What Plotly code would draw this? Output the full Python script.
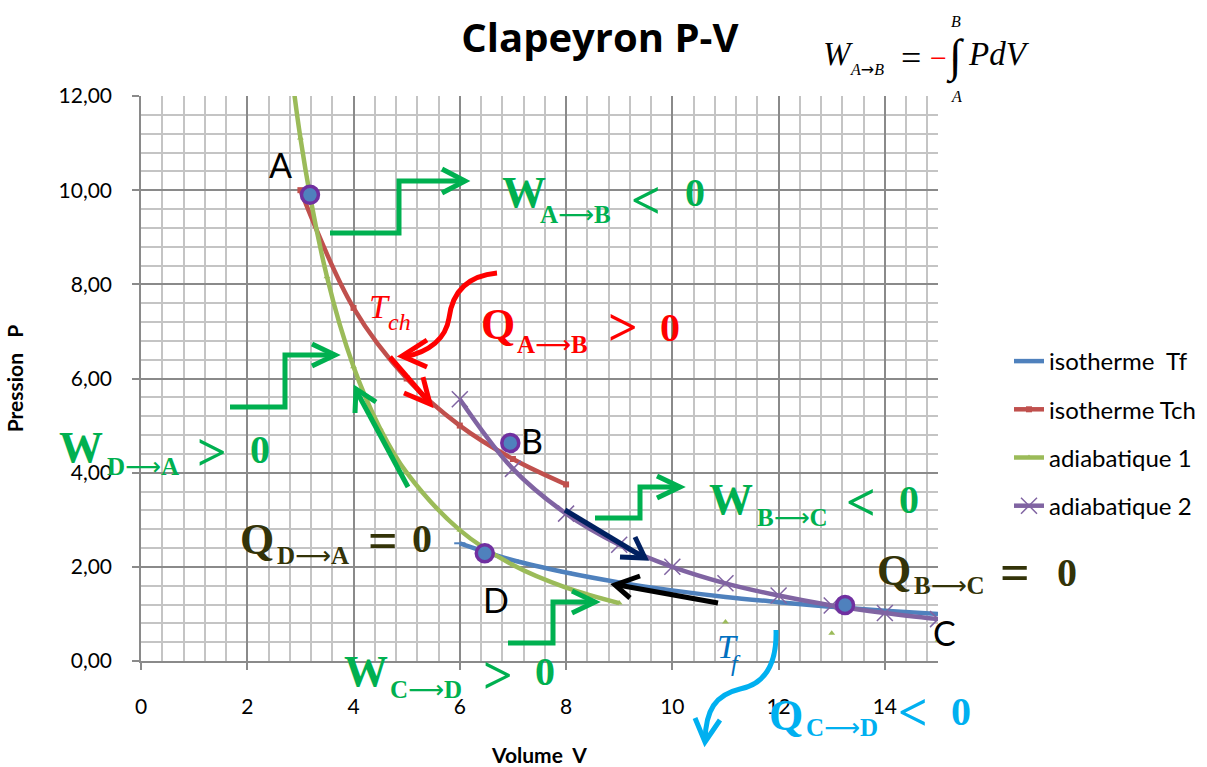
import plotly.graph_objects as go

# ---------------- data ----------------
v_tf = [6, 7, 8, 9, 10, 11, 12, 13, 14, 15]
p_tf = [2.50, 2.14, 1.88, 1.67, 1.50, 1.36, 1.25, 1.15, 1.07, 1.00]

v_tch = [3, 4, 5, 6, 7, 8]
p_tch = [10.00, 7.50, 6.00, 5.00, 4.29, 3.75]

v_ad1 = [2.5, 3, 3.5, 4, 4.5, 5, 6, 7, 8, 9, 10, 11, 12, 13, 14, 15]
p_ad1 = [16.0, 11.11, 8.16, 6.25, 4.94, 4.00, 2.78, 2.04, 1.56, 1.23, None, 0.83, None, 0.59, None, 0.44]

v_ad2 = [6, 7, 8, 9, 10, 11, 12, 13, 14, 15]
p_ad2 = [5.56, 4.08, 3.13, 2.47, 2.00, 1.65, 1.39, 1.18, 1.02, 0.89]

state_names = ["A", "B", "C", "D"]
state_v = [3.18, 6.95, 13.25, 6.47]
state_p = [9.90, 4.63, 1.19, 2.29]

x_range = [0, 15]
y_range = [0, 12]

# ---------------- layout geometry (pixels) ----------------
W, H = 1207, 767
L, R, T, B = 141, 269, 96, 106
PW, PH = W - L - R, H - T - B


def xp(px):
    return (px - L) / PW


def yp(py):
    return (H - B - py) / PH


def path(points):
    s = ""
    for i, (a, b) in enumerate(points):
        s += ("M" if i == 0 else "L") + f"{xp(a):.5f},{yp(b):.5f} "
    return s


def cpath(cmds):
    s = ""
    for letter, pts in cmds:
        s += letter + " ".join(f"{xp(a):.5f},{yp(b):.5f}" for a, b in pts) + " "
    return s


GREEN = "#00B050"
RED = "#FF0000"
DARK = "#333308"
CYAN = "#00B0F0"
NAVY = "#002060"
ARROW = '<span style="font-family:DejaVu Sans;font-weight:normal">\u27f6</span>'

fig = go.Figure()

fig.add_trace(go.Scatter(
    x=v_tf, y=p_tf, name="isotherme\u00a0 Tf", mode="lines+markers",
    line=dict(color="#4F81BD", width=4.5, shape="spline"),
    marker=dict(symbol="line-ew", size=8, line=dict(color="#4F81BD", width=2)),
    legendgroup="g1"))
fig.add_trace(go.Scatter(
    x=v_tch, y=p_tch, name="isotherme Tch", mode="lines+markers",
    line=dict(color="#C0504D", width=4.5, shape="spline"),
    marker=dict(symbol="square", size=6, color="#C0504D"),
    legendgroup="g2"))
fig.add_trace(go.Scatter(
    x=v_ad1, y=p_ad1, name="adiabatique 1", mode="lines+markers",
    line=dict(color="#9BBB59", width=4.5, shape="spline"),
    marker=dict(symbol="triangle-up", size=6, color="#9BBB59"),
    legendgroup="g3"))
fig.add_trace(go.Scatter(
    x=v_ad2, y=p_ad2, name="adiabatique 2", mode="lines+markers",
    line=dict(color="#8064A2", width=4.5, shape="spline"),
    marker=dict(symbol="x-thin-open", size=16, line=dict(color="#8064A2", width=1.5)),
    legendgroup="g4"))
fig.add_trace(go.Scatter(
    x=state_v, y=state_p, mode="markers", showlegend=False,
    marker=dict(size=17, color="#4F81BD", line=dict(color="#7030A0", width=3.5))))

# ---------------- arrows (decorations) ----------------
shapes = []


def add_path(p, color, width=5):
    shapes.append(dict(type="path", path=p, xref="paper", yref="paper",
                       line=dict(color=color, width=width), layer="above"))


add_path(path([(330, 233), (399, 233), (399, 181), (463, 181)]), GREEN)
add_path(path([(442, 169), (465, 181), (442, 193)]), GREEN)
add_path(path([(230, 407), (285, 407), (285, 355), (333, 355)]), GREEN)
add_path(path([(312, 344), (335, 355), (312, 366)]), GREEN)
add_path(path([(595, 518), (640, 518), (640, 487), (678, 487)]), GREEN)
add_path(path([(657, 476), (680, 487), (657, 498)]), GREEN)
add_path(path([(508, 643), (553, 643), (553, 602), (593, 602)]), GREEN)
add_path(path([(572, 591), (595, 602), (572, 613)]), GREEN)
add_path(path([(408, 487), (357, 392)]), GREEN)
add_path(path([(355, 413), (356, 389), (376, 402)]), GREEN)
add_path(cpath([("M", [(497, 273)]), ("C", [(465, 276), (452, 295), (449, 318)]),
                ("C", [(446, 338), (430, 352), (404, 357)])]), RED)
add_path(path([(427, 340), (402, 356), (427, 367)]), RED)
add_path(path([(390, 357), (428, 401)]), RED)
add_path(path([(404, 393), (430, 404), (423, 377)]), RED)
add_path(path([(565, 510), (643, 557)]), NAVY)
add_path(path([(620, 557), (645, 558), (635, 537)]), NAVY)
add_path(path([(718, 603), (618, 585)]), "#000000")
add_path(path([(640, 576), (615, 585), (630, 598)]), "#000000")
add_path(cpath([("M", [(776, 630)]), ("C", [(777, 665), (765, 684), (740, 689)]),
                ("C", [(715, 695), (706, 710), (705, 740)])]), CYAN)
add_path(path([(695, 718), (705, 742), (720, 720)]), CYAN)

# ---------------- text annotations ----------------
ann = []
SERIF = "Liberation Serif"


def txt(text, px, py, size, color, family=SERIF, xanchor="left", bold=True, italic=False):
    t = text
    if bold:
        t = f"<b>{t}</b>"
    if italic:
        t = f"<i>{t}</i>"
    ann.append(dict(text=t, x=xp(px), y=yp(py), xref="paper", yref="paper",
                    xanchor=xanchor, yanchor="middle", showarrow=False,
                    font=dict(family=family, size=size, color=color)))


def label(main, s1, s2, rel, val, pos, color):
    (xm, ym), (xs, ys), (xr, yr), (xv, yv) = pos
    txt(main, xm, ym, 44, color)
    txt(s1 + ARROW + s2, xs, ys, 25, color)
    txt(rel, xr, yr, 52, color)
    txt(val, xv, yv, 40, color)


label("W", "A", "B", "<", "0", [(500, 193), (538, 214), (629, 200), (683, 193)], GREEN)
label("Q", "A", "B", ">", "0", [(479, 324), (515, 344), (606, 327), (658, 327)], RED)
label("W", "D", "A", ">", "0", [(57, 447), (105, 466), (195, 452), (248, 449)], GREEN)
label("Q", "D", "A", "=", "0", [(238, 539), (275, 555), (366, 540), (410, 538)], DARK)
label("W", "B", "C", "<", "0", [(707, 499), (755, 517), (844, 502), (897, 499)], GREEN)
label("Q", "B", "C", "=", "0", [(875, 570), (912, 585), (998, 572), (1055, 572)], DARK)
label("W", "C", "D", ">", "0", [(342, 671), (388, 689), (481, 675), (533, 671)], GREEN)
label("Q", "C", "D", "<", "0", [(767, 715), (804, 727), (896, 712), (949, 711)], CYAN)

txt("T", 367, 306, 34, RED, bold=False, italic=True)
txt("ch", 386, 322, 24, RED, bold=False, italic=True)
txt("T", 715, 646, 34, "#0070C0", bold=False, italic=True)
txt("f", 729, 663, 24, "#0070C0", bold=False, italic=True)

for name, (cx, cy) in zip(state_names, [(280, 164), (532, 440), (944, 632), (496, 599)]):
    txt(name, cx, cy, 34, "#000000", family="Lato", xanchor="center", bold=False)

FARROW = '<span style="font-family:DejaVu Sans">\u2192</span>'
txt("W", 821, 54, 33, "#000000", bold=False, italic=True)
txt("A" + FARROW + "B", 848, 70, 16, "#000000", bold=False, italic=True)
txt("=", 899, 58, 36, "#000000", bold=False)
txt("−", 928, 57, 30, RED, bold=False)
txt("∫", 955, 57, 46, "#000000", xanchor="center", bold=False)
txt("B", 956, 21, 16, "#000000", xanchor="center", bold=False, italic=True)
txt("A", 956, 96, 16, "#000000", xanchor="center", bold=False, italic=True)
txt("PdV", 966, 54, 33, "#000000", bold=False, italic=True)

fig.update_layout(
    width=W, height=H,
    margin=dict(l=L, r=R, t=T, b=B, autoexpand=False),
    paper_bgcolor="white", plot_bgcolor="white",
    separators=", ",
    title=dict(text="<b>Clapeyron P-V</b>", x=0.497, xanchor="center",
               y=1 - 38 / H, yanchor="middle", yref="container",
               font=dict(family="Open Sans", size=40, color="#000000")),
    font=dict(family="Lato", color="#000000"),
    showlegend=True,
    legend=dict(x=xp(1009), y=yp(339), xanchor="left", yanchor="top",
                xref="paper", yref="paper",
                font=dict(family="Lato", size=24, color="#000000"),
                tracegroupgap=14, bgcolor="rgba(0,0,0,0)"),
    shapes=shapes,
    annotations=ann,
)

fig.update_xaxes(
    range=x_range, dtick=2, tick0=0, automargin=False,
    showgrid=True, gridcolor="#8A8A8A", gridwidth=1.5,
    minor=dict(dtick=0.4, tick0=0, showgrid=True, gridcolor="#C4C4C4", gridwidth=1.5),
    showline=True, linecolor="#8A8A8A", linewidth=1.5,
    ticks="outside", ticklen=7, tickcolor="#8A8A8A", tickwidth=1.5,
    ticklabelstandoff=19,
    zeroline=False,
    tickfont=dict(family="Lato", size=21, color="#000000"),
    title=dict(text="<b>Volume\u00a0 V</b>", font=dict(family="Lato", size=21), standoff=48),
)
fig.update_yaxes(
    range=y_range, dtick=2, tick0=0, tickformat=".2f", automargin=False,
    showgrid=True, gridcolor="#8A8A8A", gridwidth=1.5,
    minor=dict(dtick=0.4, tick0=0, showgrid=True, gridcolor="#C4C4C4", gridwidth=1.5),
    showline=True, linecolor="#8A8A8A", linewidth=1.5,
    ticks="outside", ticklen=7, tickcolor="#8A8A8A", tickwidth=1.5,
    ticklabelstandoff=16,
    zeroline=False,
    tickfont=dict(family="Lato", size=21, color="#000000"),
    title=dict(text="<b>Pression\u00a0 \u00a0P</b>", font=dict(family="Lato", size=21), standoff=29),
)

fig.write_html("out.html", config={"displayModeBar": False},
               post_script="document.body.style.margin='0px';")
